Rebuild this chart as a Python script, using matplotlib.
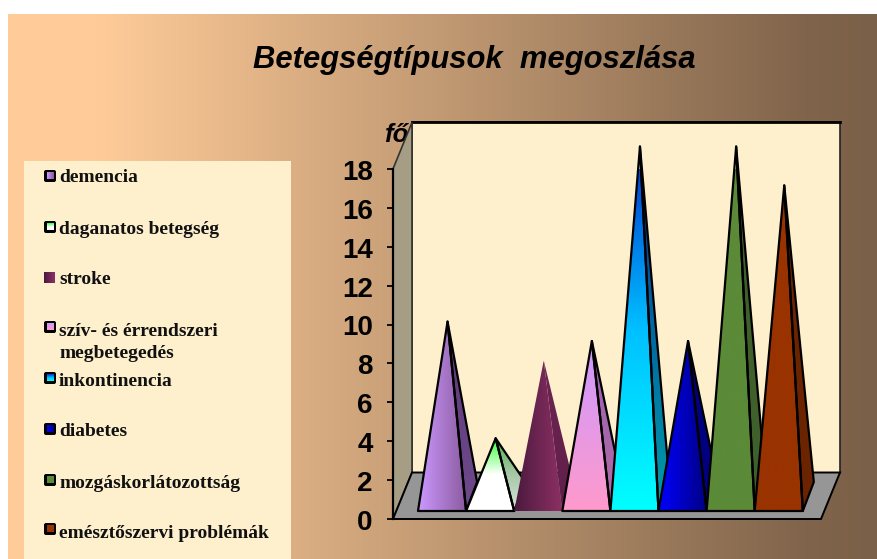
import numpy as np
import matplotlib
matplotlib.use("Agg")
import matplotlib.pyplot as plt
from matplotlib.colors import LinearSegmentedColormap
from matplotlib.patches import Polygon, Rectangle, FancyBboxPatch
from matplotlib.transforms import ScaledTranslation

W, H = 877, 559

categories = ['demencia', 'daganatos betegség', 'stroke',
              'szív- és érrendszeri\nmegbetegedés', 'inkontinencia', 'diabetes',
              'mozgáskorlátozottság', 'emésztőszervi problémák']
values = [10, 4, 8, 9, 19, 9, 19, 17]
y_ticks = list(range(0, 20, 2))
title = 'Betegségtípusok  megoszlása'
y_label = 'fő'

# front face gradient, direction ('h' = left to right, 'v' = bottom to top)
front_colors = [['#CC99FF', '#8A5A9E'], ['#FFFFFF', '#FFFFFF', '#33FF33'],
                ['#4A1A3E', '#8E3064'], ['#FF99CC', '#CC99FF'],
                ['#00FFFF', '#00BFFF', '#0033CC'], ['#0000FF', '#000080'],
                ['#5B8A38', '#5B8A38'], ['#993300', '#993300']]
front_dirs = ['h', 'v', 'h', 'v', 'v', 'h', 'h', 'h']
side_colors = [['#6E4A8C', '#5E3A78'], ['#D8E4D8', '#A8C8A8', '#50B050'],
               ['#5E1F48', '#6E2552'], ['#B06CA8', '#9A60B0'],
               ['#009CA8', '#003399'], ['#000080', '#000080'],
               ['#3F602B', '#3F602B'], ['#6B2400', '#6B2400']]
outlined = [True, True, False, True, True, True, True, True]
legend_y = [179, 230, 281, 332, 383, 433, 484, 535]
marker_y = [176, 227, 278, 327, 378, 429, 480, 529]


def gradient_fill(ax, verts, cols, direction, zorder):
    cmap = LinearSegmentedColormap.from_list('g', cols)
    g = np.linspace(0, 1, 256)
    img = g.reshape(1, -1) if direction == 'h' else g.reshape(-1, 1)
    xs = [v[0] for v in verts]
    ys = [v[1] for v in verts]
    im = ax.imshow(img, cmap=cmap, origin='lower', aspect='auto', zorder=zorder,
                   extent=(min(xs), max(xs), min(ys), max(ys)))
    patch = Polygon(verts, closed=True, transform=ax.transData)
    im.set_clip_path(patch)


fig = plt.figure(figsize=(W / 100, H / 100), dpi=100, facecolor='white')

# background, legend and title live in a pixel-sized axes
bg = fig.add_axes([0, 0, 1, 1])
bg.set_axis_off()
bg_cmap = LinearSegmentedColormap.from_list(
    'bg', [(0, '#FFCC99'), (0.1, '#FFCC99'), (0.92, '#80644B'), (1, '#7B6049')])
bg.imshow(np.linspace(0, 1, 512).reshape(1, -1), cmap=bg_cmap, aspect='auto',
          extent=(8, W, H, 14), zorder=0)
bg.add_patch(Rectangle((24, 161), 267, 398, fc='#FEF0CD', ec='none', zorder=1))
bg.text(474.5, 60, title, fontsize=22.3, family='Liberation Sans', weight='bold',
        style='italic', ha='center', va='center', zorder=3)
bg.text(384, 135, y_label, fontsize=18.5, family='Liberation Sans', weight='bold',
        style='italic', ha='left', va='center', zorder=3)

for i, name in enumerate(categories):
    my = marker_y[i]
    if outlined[i]:
        bg.add_patch(FancyBboxPatch((45.5, my - 4.5), 9, 9,
                                    boxstyle='round,pad=1.5,rounding_size=2',
                                    fc='black', ec='none', zorder=2))
        x0, x1, y0, y1 = 46.5, 53.5, my + 3.5, my - 3.5
    else:
        x0, x1, y0, y1 = 44, 55, my + 5.5, my - 5.5
    gradient = np.linspace(0, 1, 32)
    img = gradient.reshape(1, -1) if front_dirs[i] == 'h' else gradient.reshape(-1, 1)
    cmap = LinearSegmentedColormap.from_list('m', front_colors[i])
    bg.imshow(img, cmap=cmap, origin='lower', aspect='auto', zorder=3,
              extent=(x0, x1, y0, y1))
    bg.text(59, legend_y[i] - 1, name.split('\n')[0], fontsize=14, family='Liberation Serif',
            weight='bold', va='center', ha='left', color='#111111', zorder=3)
    if '\n' in name:
        bg.text(59, 353, name.split('\n')[1], fontsize=14, family='Liberation Serif',
                weight='bold', va='center', ha='left', color='#111111', zorder=3)
bg.set_xlim(0, W)
bg.set_ylim(H, 0)

# chart axes: front plane of the 3D box
px_x, px_y = 48.1, 19.45
left, right, base, top = 393, 821, 519, 519 - 18 * px_y
ax = fig.add_axes([left / W, 1 - base / H, (right - left) / W, (base - top) / H])
ax.patch.set_visible(False)
xmin, xmax = (left - 418) / px_x, (right - 418) / px_x
depth_x, depth_y = 19 / px_x, 46.5 / px_y
ymax = 18

ax.add_patch(Rectangle((xmin + depth_x, depth_y), xmax - xmin, ymax, fc='#FEF0CD', ec='#222222',
                       lw=1.2, clip_on=False, zorder=1))
ax.plot([xmin + depth_x, xmax + depth_x], [ymax + depth_y] * 2, color='black', lw=2,
        clip_on=False, zorder=2)
ax.add_patch(Polygon([(xmin, 0), (xmin + depth_x, depth_y), (xmin + depth_x, ymax + depth_y),
                      (xmin, ymax)], fc='#A59E85', ec='#333333', lw=1.2, clip_on=False, zorder=2))
ax.add_patch(Polygon([(xmin, 0), (xmax, 0), (xmax + depth_x, depth_y), (xmin + depth_x, depth_y)],
                     fc='#969696', ec='black', lw=1.4, clip_on=False, zorder=3))

base_y = 8 / px_y
back_dx, back_dy = 11 / px_x, 29 / px_y
for i, v in enumerate(values):
    z = 10 + i * 3
    fl, fr = (i, base_y), (i + 1, base_y)
    br = (i + 1 + back_dx, base_y + back_dy)
    apex = (i + 0.5 + back_dx / 2, v + 0.15)
    gradient_fill(ax, [fr, br, apex], side_colors[i], 'v', z)
    gradient_fill(ax, [fl, fr, apex], front_colors[i], front_dirs[i], z + 1)
    if outlined[i]:
        ax.add_patch(Polygon([fr, br, apex], fill=False, ec='black', lw=1.6, clip_on=False,
                             joinstyle='round', zorder=z + 2))
        ax.add_patch(Polygon([fl, fr, apex], fill=False, ec='black', lw=1.6, clip_on=False,
                             joinstyle='round', zorder=z + 2))

ax.set_xlim(xmin, xmax)
ax.set_ylim(0, ymax)
ax.set_xticks([])
ax.set_yticks(y_ticks)
ax.tick_params(axis='y', length=4.5, width=1.3, pad=10, labelsize=20)
shift = ScaledTranslation(0, -0.7 / 72, fig.dpi_scale_trans)
for lab in ax.get_yticklabels():
    lab.set_family('Liberation Sans')
    lab.set_weight('bold')
    lab.set_transform(lab.get_transform() + shift)
for s in ['top', 'right', 'bottom']:
    ax.spines[s].set_visible(False)
ax.spines['left'].set_linewidth(1.6)
ax.spines['left'].set_zorder(5)

fig.savefig('out.png', dpi=100)
